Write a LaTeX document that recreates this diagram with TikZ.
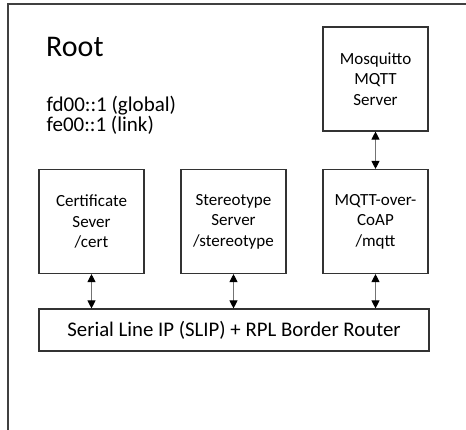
\documentclass[tikz,border=0pt]{standalone}
\usepackage{fontspec}
\setmainfont{Carlito}
\usetikzlibrary{arrows.meta}
\begin{document}
\begin{tikzpicture}[x=1pt,y=-1pt,
  box/.style={draw=black!80,line width=1.1pt,minimum width=105pt,minimum height=104pt,inner sep=0pt,align=center,font=\fontsize{17}{20.5}\selectfont},
  bar/.style={draw=black!80,line width=1.1pt,minimum width=390pt,minimum height=42pt,inner sep=0pt,font=\fontsize{20.8}{24}\selectfont},
  addr/.style={anchor=base west,inner sep=0pt,font=\fontsize{21}{21}\selectfont},
  link/.style={draw=black!55,line width=0.9pt,{Triangle[width=8pt,length=8pt,fill=black,color=black]}-{Triangle[width=8pt,length=8pt,fill=black,color=black]}}]
\useasboundingbox (0,0) rectangle (466,430);
\draw[black!75,line width=1.3pt] (8,431) -- (8,4) -- (467,4);
\node[anchor=base west,inner sep=0pt,font=\fontsize{30}{34}\selectfont] (root) at (46,57) {Root};
\node[addr] (addr1) at (46.5,112) {fd00::1 (global)};
\node[addr] (addr2) at (46.5,132) {fe00::1 (link)};
\node[box] (mosq) at (375.5,79) {Mosquitto\\MQTT\\Server};
\node[box] (cert) at (91.5,221.5) {Certificate\\Sever\\/cert};
\node[box] (stereo) at (233.5,221.5) {Stereotype\\Server\\/stereotype};
\node[box] (coap) at (375.5,221.5) {MQTT-over-\\CoAP\\/mqtt};
\node[bar] (slip) at (234,330) {Serial Line IP (SLIP) + RPL Border Router};
\draw[link] (mosq.south) -- (coap.north);
\draw[link] (cert.south) -- (cert.south |- slip.north);
\draw[link] (stereo.south) -- (stereo.south |- slip.north);
\draw[link] (coap.south) -- (coap.south |- slip.north);
\end{tikzpicture}
\end{document}
